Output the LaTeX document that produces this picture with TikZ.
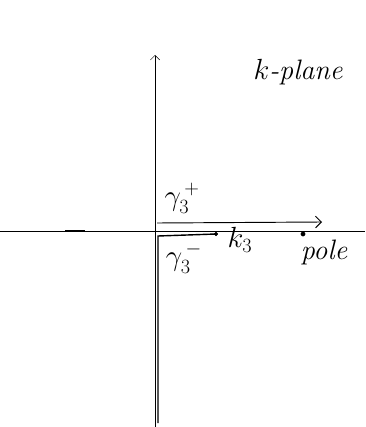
\documentclass[tikz,border=0pt]{standalone}
\usepackage{amsmath}
\usepackage{tikz}
\usetikzlibrary{positioning}
\usetikzlibrary{arrows.meta}

\tikzset{hand/.style={font=\fontsize{24}{28}\selectfont, inner sep=1pt}}

\begin{document}
\begin{tikzpicture}[x=0.03cm, y=-0.03cm]
    \useasboundingbox (0,0) rectangle (365,427);

    % Axes
    \coordinate (O) at (155,231);
    \coordinate (xl) at (0,231);
    \coordinate (xr) at (365,231);
    \coordinate (yb) at (155,427);
    \coordinate (yt) at (155,55);
    \draw[thin] (xl) -- (xr);
    \draw[thin, -{Straight Barb[length=4pt]}] (yb) -- (yt);
    \draw[line width=1.2pt] (65,231) -- (85,231);

    % Contours
    \coordinate (gps) at (157,223);
    \coordinate (gpe) at (322,222);
    \draw[thick, -{Straight Barb[length=5pt]}] (gps) -- (gpe);
    \coordinate (gms) at (158,423);
    \coordinate (gmc) at (158,236);
    \filldraw (216,234) circle (1.5pt) coordinate (k3);
    \draw[very thick] (gms) -- (gmc) -- (k3);

    % Pole
    \filldraw (303,234) circle (1.8pt) coordinate (pole);

    % Labels
    \node[hand] (gplus) at (182,198) {$\gamma_3^{\,+}$};
    \node[hand] (gminus) at (184,258) {$\gamma_3^{\,-}$};
    \node[hand] (k3lab) at (240,240) {$k_3$};
    \node[hand] (polelab) at (324,252) {\itshape pole};
    \node[hand] (plane) at (298,72) {\itshape $k$-plane};
\end{tikzpicture}
\end{document}
